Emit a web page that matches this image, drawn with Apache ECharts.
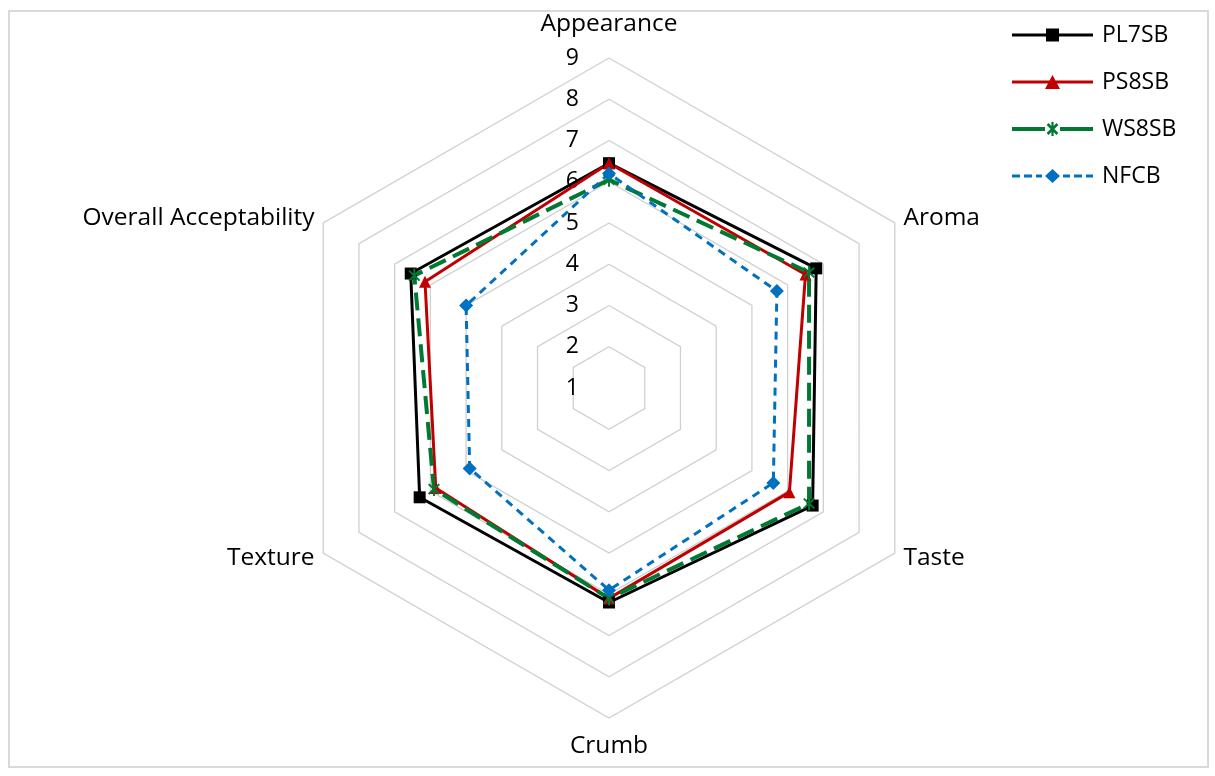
<!DOCTYPE html>
<html>
<head>
<meta charset="utf-8">
<script src="https://cdn.jsdelivr.net/npm/echarts@6/dist/echarts.min.js"></script>
<style>html,body{margin:0;padding:0;background:#fff;}#c{width:1215px;height:776px;}</style>
</head>
<body>
<div id="c"></div>
<script>
// Categories in clockwise order starting at top
const categories = ['Appearance', 'Aroma', 'Taste', 'Crumb', 'Texture', 'Overall Acceptability'];
const seriesNames = ['PL7SB', 'PS8SB', 'WS8SB', 'NFCB'];
const PL7SB = [6.45, 6.8, 6.7, 6.2, 6.3, 6.55];
const PS8SB = [6.45, 6.5, 6.05, 6.1, 5.85, 6.15];
const WS8SB = [6.05, 6.6, 6.6, 6.1, 5.9, 6.45];
const NFCB = [6.2, 5.7, 5.6, 5.9, 4.9, 5.0];
const tickLabels = ['1', '2', '3', '4', '5', '6', '7', '8', '9'];
const axisMin = 1, axisMax = 9;

// ECharts radar goes counter-clockwise; reorder to keep clockwise layout
function reorder(arr) { return [arr[0]].concat(arr.slice(1).reverse()); }

const FONT = '"Open Sans", "Liberation Sans", sans-serif';
const CENTER = [609, 388];
const RADIUS = 330;

const asterisk = 'path://M6.15,7.99 L7.99,6.15 L-6.15,-7.99 L-7.99,-6.15 Z M7.99,-6.15 L6.15,-7.99 L-7.99,6.15 L-6.15,7.99 Z M-1.3,-10 L-1.3,10 L1.3,10 L1.3,-10 Z';

// legend icons (line + marker), 81 x 14 box, all sub-paths clockwise
const legendIcons = {
  PL7SB: 'path://M0,5.5 L81,5.5 L81,8.5 L0,8.5 Z M34,0.5 L47,0.5 L47,13.5 L34,13.5 Z',
  PS8SB: 'path://M0,5.5 L81,5.5 L81,8.5 L0,8.5 Z M40.5,0 L48,14 L33,14 Z',
  WS8SB: 'path://M0,5 L33,5 L33,9 L0,9 Z M48,5 L81,5 L81,9 L48,9 Z M39.4,0 L41.6,0 L41.6,14 L39.4,14 Z M34.6,3.0 L36.5,1.1 L46.4,11.0 L44.5,12.9 Z M34.6,11.0 L44.5,1.1 L46.4,3.0 L36.5,12.9 Z',
  NFCB: 'path://M0,5.5 L8,5.5 L8,8.5 L0,8.5 Z M12,5.5 L20,5.5 L20,8.5 L12,8.5 Z M24,5.5 L30,5.5 L30,8.5 L24,8.5 Z M40.5,0 L48,7 L40.5,14 L33,7 Z M51,5.5 L58,5.5 L58,8.5 L51,8.5 Z M62,5.5 L70,5.5 L70,8.5 L62,8.5 Z M74,5.5 L81,5.5 L81,8.5 L74,8.5 Z'
};

const styles = {
  PL7SB: { color: '#000000', type: 'solid', width: 3, symbol: 'rect', size: 12 },
  PS8SB: { color: '#C00000', type: 'solid', width: 3, symbol: 'triangle', size: 12 },
  WS8SB: { color: '#007A33', type: [18, 8], width: 4, symbol: asterisk, size: [12, 14] },
  NFCB:  { color: '#0070C0', type: [8, 6], width: 3, symbol: 'diamond', size: 14 }
};
const values = { PL7SB, PS8SB, WS8SB, NFCB };

const chart = echarts.init(document.getElementById('c'));
const option = {
  backgroundColor: '#ffffff',
  animation: false,
  graphic: [{
    type: 'rect', shape: { x: 9, y: 11, width: 1199, height: 756 },
    style: { fill: 'none', stroke: '#D9D9D9', lineWidth: 2 }, silent: true, z: -1
  }],
  legend: {
    orient: 'vertical', left: 1012, top: 22, padding: 0, itemGap: 21, itemWidth: 81, itemHeight: 14,
    textStyle: { fontFamily: FONT, fontSize: 23, lineHeight: 26, color: '#000', padding: [0, 0, 0, 4] },
    data: seriesNames.map(n => ({ name: n, icon: legendIcons[n] }))
  },
  radar: {
    center: CENTER, radius: RADIUS, startAngle: 90, shape: 'polygon', splitNumber: 8,
    indicator: reorder(categories).map(n => ({ name: n, min: axisMin, max: axisMax })),
    axisName: { color: '#000', fontFamily: FONT, fontSize: 24.5, lineHeight: 25, padding: [6, 0, 11, 0] },
    nameGap: 10,
    axisLine: { show: false },
    axisTick: { show: false },
    axisLabel: { show: false },
    splitLine: { lineStyle: { color: '#D0D0D0', width: 1.3 } },
    splitArea: { show: false }
  },
  polar: { center: CENTER, radius: RADIUS },
  angleAxis: { show: false, startAngle: 90, min: 0, max: 360 },
  radiusAxis: {
    type: 'category', data: tickLabels, boundaryGap: false,
    axisLine: { show: false }, axisTick: { show: false }, splitLine: { show: false },
    axisLabel: { show: true, color: '#000', fontFamily: FONT, fontSize: 23, margin: 30 }
  },
  series: seriesNames.map(name => ({
    name, type: 'radar', z: 10,
    symbol: styles[name].symbol, symbolSize: styles[name].size,
    itemStyle: { color: styles[name].color },
    lineStyle: { color: styles[name].color, type: styles[name].type, width: styles[name].width },
    data: [{ value: reorder(values[name]), name }]
  }))
};
chart.setOption(option);
</script>
</body>
</html>
